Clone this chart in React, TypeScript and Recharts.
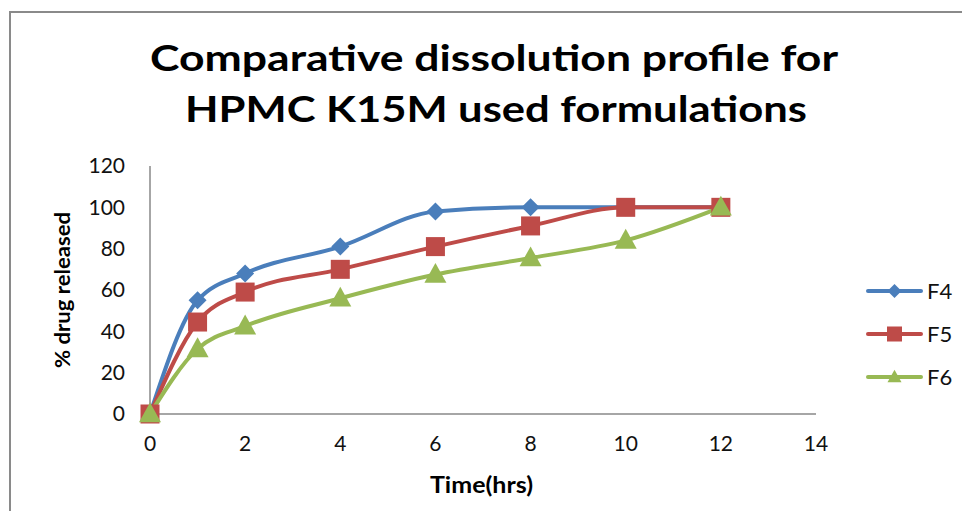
import React from "react";
import { LineChart, Line, XAxis, YAxis } from "recharts";

const times = [0, 1, 2, 4, 6, 8, 10, 12];
const f4 = [0, 55, 68, 81, 98, 100, 100, 100];
const f5 = [0, 44.5, 59, 70, 81, 91, 100, 100];
const f6 = [0, 31.5, 42.5, 56, 67.5, 75.5, 84, 100];
const xTicks = [0, 2, 4, 6, 8, 10, 12, 14];
const yTicks = [0, 20, 40, 60, 80, 100, 120];
const titleLines = ["Comparative dissolution profile for", "HPMC K15M used formulations"];
const xLabel = "Time(hrs)";
const yLabel = "% drug released";

const series = [
  { key: "F4", color: "#4A7EBB", shape: "diamond" },
  { key: "F5", color: "#BE4B48", shape: "square" },
  { key: "F6", color: "#98B954", shape: "triangle" },
];

const data = times.map((t, i) => ({ t, F4: f4[i], F5: f5[i], F6: f6[i] }));

const FONT = "Lato, 'Open Sans', sans-serif";

function marker(shape: string, color: string, cx: number, cy: number, s: number, key?: any) {
  if (shape === "diamond") {
    const h = s / 2;
    return <path key={key} d={`M${cx},${cy - h}L${cx + h},${cy}L${cx},${cy + h}L${cx - h},${cy}Z`} fill={color} />;
  }
  if (shape === "square") {
    const h = s / 2;
    return <rect key={key} x={cx - h} y={cy - h} width={s} height={s} fill={color} />;
  }
  const h = s / 2;
  return <path key={key} d={`M${cx},${cy - h * 1.05}L${cx + h},${cy + h * 0.75}L${cx - h},${cy + h * 0.75}Z`} fill={color} />;
}

const sizes: Record<string, number> = { diamond: 18, square: 19, triangle: 22 };

export default function App() {
  return (
    <div style={{ margin: -8, position: "relative", width: 970, height: 519, background: "#fff", overflow: "hidden" }}>
      <div style={{ position: "absolute", left: 9, top: 11, width: 980, height: 600, border: "2px solid #8a8a8a", boxSizing: "border-box" }} />
      <LineChart width={970} height={519} data={data} margin={{ top: 166, right: 154, bottom: 45, left: 70 }}>
        <XAxis
          dataKey="t"
          type="number"
          domain={[0, 14]}
          ticks={xTicks}
          tickLine={false}
          tickSize={0}
          tickMargin={22}
          height={60}
          axisLine={{ stroke: "#888888", strokeWidth: 1.5 }}
          tick={{ fill: "#111", fontSize: 21, fontFamily: FONT }}
        />
        <YAxis
          type="number"
          domain={[0, 120]}
          ticks={yTicks}
          tickLine={false}
          tickSize={0}
          tickMargin={25}
          width={80}
          axisLine={{ stroke: "#888888", strokeWidth: 1.5 }}
          tick={{ fill: "#111", fontSize: 21, fontFamily: FONT }}
        />
        {series.map((s) => (
          <Line
            key={s.key}
            dataKey={s.key}
            type="monotone"
            stroke={s.color}
            strokeWidth={4}
            isAnimationActive={false}
            dot={(p: any) => marker(s.shape, s.color, p.cx, p.cy, sizes[s.shape], `${s.key}-${p.index}`)}
            activeDot={false}
          />
        ))}
      </LineChart>
      <svg width={970} height={519} style={{ position: "absolute", left: 0, top: 0, pointerEvents: "none" }}>
        <text x={150} y={71} textLength={688} lengthAdjust="spacingAndGlyphs" fontFamily={FONT} fontWeight="bold" fontSize={36} fill="#000">
          {titleLines[0]}
        </text>
        <text x={185} y={122} textLength={622} lengthAdjust="spacingAndGlyphs" fontFamily={FONT} fontWeight="bold" fontSize={36} fill="#000">
          {titleLines[1]}
        </text>
        <text x={430} y={493} textLength={103} lengthAdjust="spacingAndGlyphs" fontFamily={FONT} fontWeight="bold" fontSize={22} fill="#000">
          {xLabel}
        </text>
        <text x={70} y={368} textLength={156} lengthAdjust="spacingAndGlyphs" transform="rotate(-90 70 368)" fontFamily={FONT} fontWeight="bold" fontSize={21} fill="#000">
          {yLabel}
        </text>
        {series.map((s, i) => {
          const y = 291 + i * 43;
          return (
            <g key={s.key}>
              <line x1={868} x2={921} y1={y} y2={y} stroke={s.color} strokeWidth={4} strokeLinecap="round" />
              {marker(s.shape, s.color, 894.5, y, s.shape === "square" ? 15 : 14)}
              <text x={927} y={y + 8} fontFamily={FONT} fontSize={22} fill="#111">
                {s.key}
              </text>
            </g>
          );
        })}
      </svg>
    </div>
  );
}
